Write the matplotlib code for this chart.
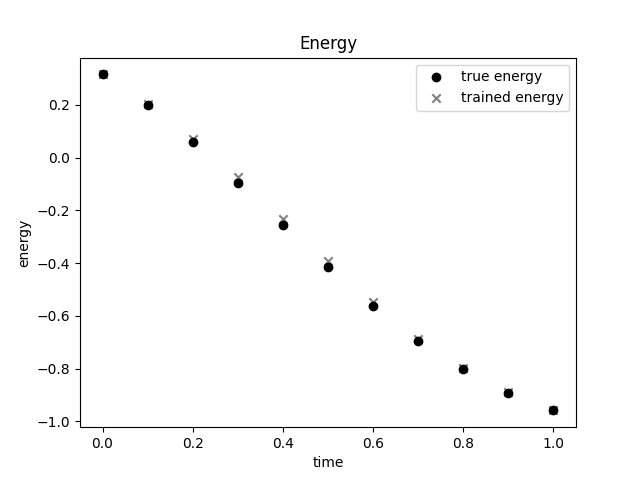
import matplotlib
matplotlib.use('Agg')
import matplotlib.pyplot as plt

time = [0.0, 0.1, 0.2, 0.3, 0.4, 0.5, 0.6, 0.7, 0.8, 0.9, 1.0]
true_energy = [0.315, 0.200, 0.060, -0.095, -0.257, -0.416, -0.563, -0.695, -0.803, -0.892, -0.958]
trained_energy = [0.315, 0.203, 0.072, -0.075, -0.234, -0.393, -0.548, -0.687, -0.799, -0.888, -0.958]

fig, ax = plt.subplots(figsize=(6.4, 4.8), dpi=100)
ax.scatter(time, true_energy, color='black', marker='o', label='true energy')
ax.scatter(time, trained_energy, color='black', alpha=0.5, marker='x', label='trained energy')
ax.set_title('Energy')
ax.set_xlabel('time')
ax.set_ylabel('energy')
ax.legend()
fig.savefig('out.png')
